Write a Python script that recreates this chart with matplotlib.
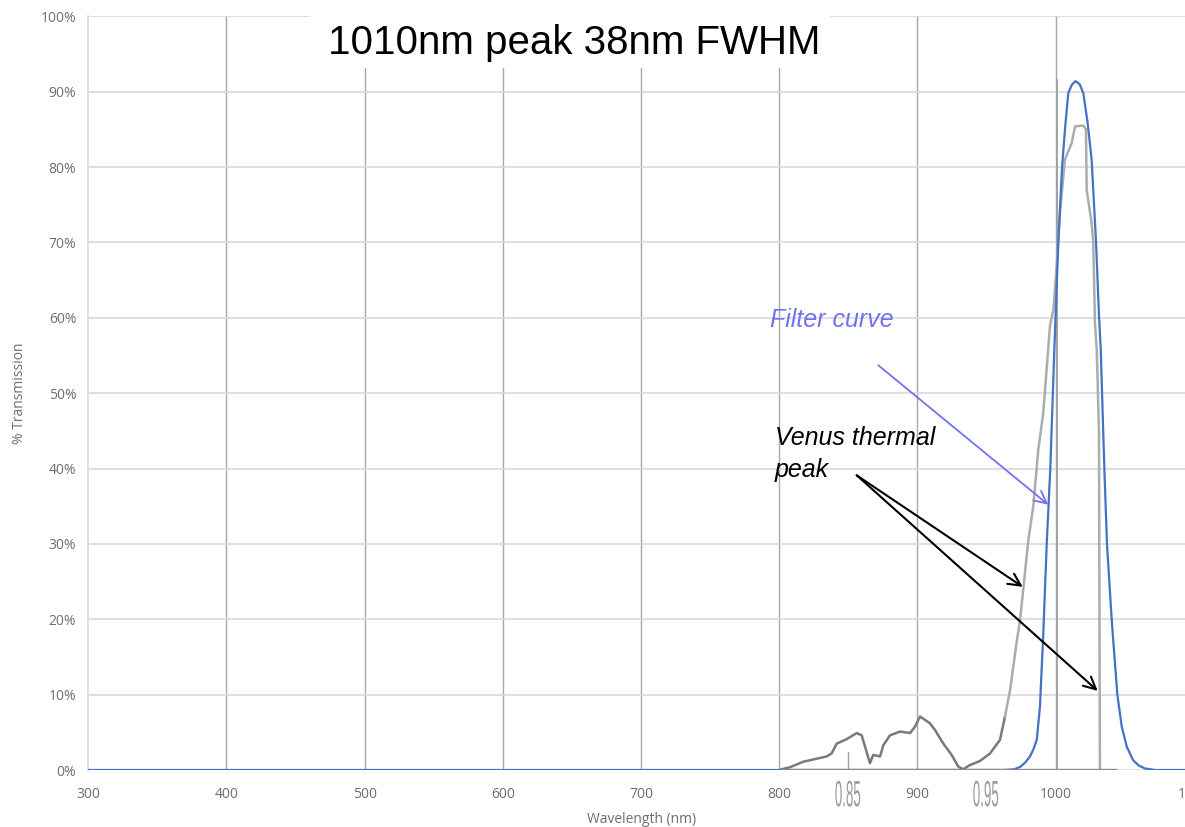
import matplotlib
matplotlib.use("Agg")
import matplotlib.pyplot as plt
from matplotlib.patches import Rectangle
from matplotlib.patheffects import AbstractPathEffect
from matplotlib.transforms import Affine2D
from matplotlib.ticker import PercentFormatter

# ---- data -------------------------------------------------------------
wavelength_ticks = [300, 400, 500, 600, 700, 800, 900, 1000, 1100]
percent_ticks = [0, 10, 20, 30, 40, 50, 60, 70, 80, 90, 100]

# filter transmission (nm, %)
filter_nm = [300, 963, 970, 974.2, 978, 981.4, 984, 986.3, 988.6, 991.0,
             993.5, 996.1, 999.0, 1001.9, 1004.6, 1006.9, 1009.1, 1011.6,
             1014.3, 1017.3, 1020.0, 1023.0, 1026.0, 1029.2, 1031.4, 1032.6,
             1035.2, 1037.1, 1040.5, 1044.6, 1047.8, 1051.4, 1056.0, 1060,
             1064.7, 1072, 1100]
filter_pct = [0, 0, 0.1, 0.4, 1.0, 1.8, 2.8, 4.0, 8.4, 18,
              30, 40, 55.8, 70, 80, 85.4, 89.8, 90.9,
              91.4, 91.0, 89.8, 86.0, 81.0, 70, 60, 55.8,
              40, 30, 20, 10, 5.75, 3.1, 1.3, 0.6,
              0.2, 0, 0]

# Venus thermal emission trace (nm, %)
venus_nm = [801.7, 807.7, 817.4, 827.1, 834.3, 837.9, 841.5, 848.8, 856.0,
            859.6, 863.2, 865.6, 868.0, 872.9, 875.3, 880.1, 887.3, 894.6,
            898.2, 901.8, 909.0, 912.7, 918.7, 924.7, 929.5, 933.1, 938.0,
            945.2, 952.5, 959.7, 963.3, 967.0, 969.3, 972.0, 974.2, 976.5,
            980.2, 983.8, 987.4, 991.0, 995.9, 998.3, 1000.7, 1003.1, 1006.7,
            1011.6, 1014.0, 1020.0, 1021.9, 1022.4, 1026.0, 1027.2, 1028.4,
            1029.7, 1031.3, 1032.0]
venus_pct = [0.1, 0.36, 1.1, 1.5, 1.8, 2.2, 3.5, 4.1, 4.9,
             4.6, 2.4, 0.9, 2.0, 1.8, 3.3, 4.6, 5.1, 4.9,
             5.75, 7.1, 6.2, 5.3, 3.5, 2.0, 0.45, 0.1, 0.66,
             1.2, 2.2, 4.0, 7.1, 10.6, 13.7, 17.3, 19.9, 23.9,
             30.5, 35, 42.5, 47.4, 59, 61, 66.8, 74, 81,
             83.2, 85.4, 85.5, 85, 77, 72.6, 69.9, 59.3,
             55.8, 45, 0]
venus_split = 30          # index where the trace turns into the steep rise

# micron scale printed under the trace
micron_labels = ["0.85", "0.95"]
micron_nm = [849.5, 949.4]


class Stretch(AbstractPathEffect):
    """Scale a text path about its own centre."""
    def __init__(self, sx, sy):
        super().__init__()
        self.sx, self.sy = sx, sy

    def draw_path(self, renderer, gc, tpath, affine, rgbFace=None):
        ext = tpath.transformed(affine).get_extents()
        cx, cy = (ext.x0 + ext.x1) / 2, (ext.y0 + ext.y1) / 2
        aff = affine + Affine2D().translate(-cx, -cy).scale(self.sx, self.sy).translate(cx, cy)
        renderer.draw_path(gc, tpath, aff, rgbFace)


# ---- figure -------------------------------------------------------------
fig = plt.figure(figsize=(11.85, 8.27), dpi=100)
ax = fig.add_axes([0.07451, 0.06892, 0.93300, 0.91137])
ax.set_xlim(wavelength_ticks[0], wavelength_ticks[-1])
ax.set_ylim(percent_ticks[0], percent_ticks[-1])

label_font = "Open Sans"
tick_color = "#6e6e6e"

ax.set_xticks(wavelength_ticks)
ax.set_yticks(percent_ticks)
ax.yaxis.set_major_formatter(PercentFormatter(decimals=0))
ax.tick_params(axis="both", length=0, labelsize=10, labelcolor=tick_color)
ax.tick_params(axis="x", pad=12)
ax.tick_params(axis="y", pad=8.6)
for lab in ax.get_xticklabels() + ax.get_yticklabels():
    lab.set_fontfamily(label_font)

for side in ("top", "right", "bottom"):
    ax.spines[side].set_visible(False)
ax.spines["left"].set_color("#d9d9d9")
ax.spines["left"].set_linewidth(1.2)

ax.set_axisbelow(True)
ax.yaxis.grid(True, color="#d9d9d9", linewidth=1.2)
for w in wavelength_ticks[1:-1]:
    ax.axvline(w, color="#a8a8a8", linewidth=1.0, zorder=0.5)

ax.set_xlabel("Wavelength (nm)", fontsize=10, color=tick_color, family=label_font)
ax.xaxis.set_label_coords(0.5, -0.0557)
ax.set_ylabel("% Transmission", fontsize=10, color=tick_color, family=label_font)
ax.yaxis.set_label_coords(-0.0554, 0.5)

# filter curve
ax.plot(filter_nm, filter_pct, color="#4472C4", linewidth=1.6, zorder=4,
        solid_joinstyle="round")

# Venus trace with its own baseline and markers
ax.plot([venus_nm[0], 1043], [0, 0], color="#8a8a8a", linewidth=2.4, zorder=5)
ax.plot([micron_nm[0], micron_nm[0]], [0, 2.4], color="#a0a0a0", linewidth=1.0, zorder=3)
ax.plot([1000.9, 1000.9], [0, 91.6], color="#a0a0a0", linewidth=1.3, zorder=3)
ax.plot(venus_nm[:venus_split + 1], venus_pct[:venus_split + 1],
        color="#7a7a7a", linewidth=1.8, zorder=3, solid_joinstyle="round")
ax.plot(venus_nm[venus_split:], venus_pct[venus_split:],
        color="#acacac", linewidth=1.8, zorder=3, solid_joinstyle="round")

for txt, w in zip(micron_labels, micron_nm):
    ax.text(w, -3.3, txt, ha="center", va="center", fontsize=12,
            family="Liberation Sans", color="#9a9a9a", clip_on=False,
            path_effects=[Stretch(0.8, 2.2)])

# annotations
filter_color = "#7272ee"
ax.text(793.3, 58.8, "Filter curve", fontsize=18, style="italic",
        family="Liberation Sans", color=filter_color, va="baseline", ha="left")
ax.annotate("", xy=(994.6, 35.2), xytext=(871.6, 53.7),
            arrowprops=dict(arrowstyle="->", color=filter_color, lw=1.3,
                            mutation_scale=22, shrinkA=0, shrinkB=0), zorder=6)

ax.text(796.9, 43.1, "Venus thermal", fontsize=18, style="italic",
        family="Liberation Sans", color="black", va="baseline", ha="left")
ax.text(796.9, 38.9, "peak", fontsize=18, style="italic",
        family="Liberation Sans", color="black", va="baseline", ha="left")
for tip in [(976.1, 24.3), (1030.4, 10.5)]:
    ax.annotate("", xy=tip, xytext=(856.0, 39.1),
                arrowprops=dict(arrowstyle="->", color="black", lw=1.5,
                                mutation_scale=22, shrinkA=0, shrinkB=0), zorder=6)

# title on a white panel over the top of the plot
fig.add_artist(Rectangle((310 / 1185, (827 - 68) / 827), 520 / 1185, 68 / 827,
                         transform=fig.transFigure, facecolor="white",
                         edgecolor="none", zorder=2))
fig.text(574 / 1185, (827 - 53.6) / 827, "1010nm peak 38nm FWHM",
         ha="center", va="baseline", fontsize=29, family="Liberation Sans",
         color="black", zorder=3)

fig.savefig("out.png", dpi=100)
